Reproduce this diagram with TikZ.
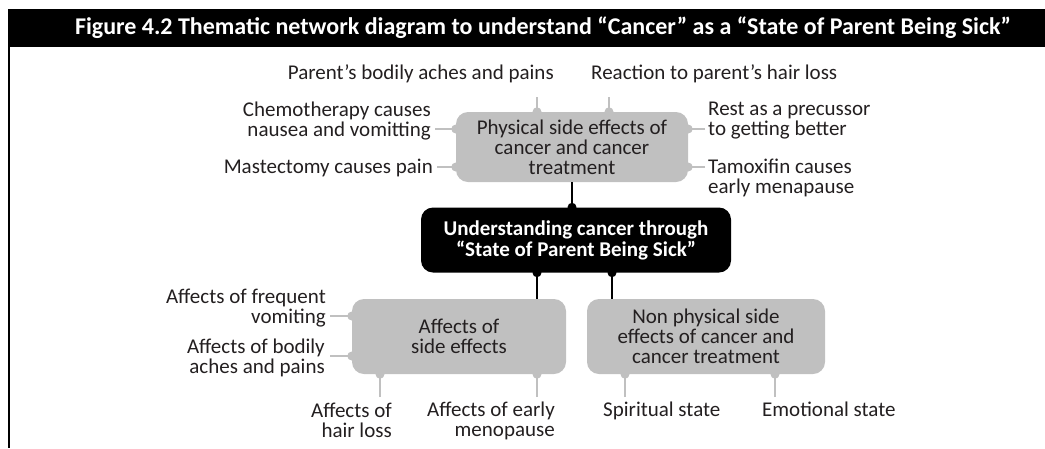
\documentclass[tikz,border=0pt]{standalone}
\usepackage{fontspec}
\setmainfont{Carlito}
\definecolor{BoxGrey}{RGB}{192,192,192}
\definecolor{LinkGrey}{RGB}{192,192,192}
\definecolor{Ink}{RGB}{35,31,32}

\begin{document}
\begin{tikzpicture}[x=1pt,y=-1pt,
  box/.style={fill=BoxGrey, rounded corners=12pt, align=center, text=Ink, inner sep=0pt, font=\fontsize{21}{20}\selectfont},
  keybox/.style={fill=black, rounded corners=12pt, align=center, text=white, inner sep=0pt, font=\bfseries\fontsize{21}{21}\selectfont},
  lbl/.style={text=Ink, inner sep=0pt, font=\fontsize{21}{20}\selectfont},
  link/.style={LinkGrey, line width=2pt},
  stem/.style={black, line width=2.5pt},
  gdot/.style={circle, fill=BoxGrey, inner sep=0pt, minimum size=9pt},
  bdot/.style={circle, fill=black, inner sep=0pt, minimum size=9pt}]
\useasboundingbox (0,0) rectangle (1045,448);
\fill[black] (8,9) rectangle (1045,47);
\draw[black, line width=2pt] (9,47) -- (9,448);
\node[text=white, font=\bfseries\fontsize{24}{24}\selectfont] (title) at (543,28) {Figure 4.2 Thematic network diagram to understand “Cancer” as a “State of Parent Being Sick”};

\node[box, minimum width=232pt, minimum height=70pt] (phys) at (572,147) {Physical side effects of\\cancer and cancer\\treatment};
\node[keybox, minimum width=310pt, minimum height=65pt] (core) at (576,240) {Understanding cancer through\\“State of Parent Being Sick”};
\node[box, minimum width=214pt, minimum height=75pt] (side) at (459,336.5) {Affects of\\side effects};
\node[box, minimum width=238pt, minimum height=75pt] (nonphys) at (706,336.5) {Non physical side\\effects of cancer and\\cancer treatment};

\node[lbl, anchor=east] (pbody) at (554,74) {Parent’s bodily aches and pains};
\node[lbl, anchor=west] (phair) at (591,74) {Reaction to parent’s hair loss};
\node[lbl, anchor=east, align=right] (chemo) at (431,121) {Chemotherapy causes\\nausea and vomitting};
\node[lbl, anchor=east] (mast) at (433,168) {Mastectomy causes pain};
\node[lbl, anchor=west, align=left] (rest) at (708,121) {Rest as a precussor\\to getting better};
\node[lbl, anchor=west, align=left] (tamox) at (708,177.5) {Tamoxifin causes\\early menapause};
\node[lbl, anchor=east, align=right] (vomit) at (326,308.5) {Affects of frequent\\vomiting};
\node[lbl, anchor=east, align=right] (aches) at (325,358) {Affects of bodily\\aches and pains};
\node[lbl, anchor=east, align=right] (hair) at (392,420) {Affects of\\hair loss};
\node[lbl, anchor=east, align=right] (meno) at (555,420.5) {Affects of early\\menopause};
\node[lbl, anchor=west] (spirit) at (603,411) {Spiritual state};
\node[lbl, anchor=west] (emot) at (762,409) {Emotional state};

\coordinate (a1) at (537,97);
\coordinate (a2) at (609,97);
\coordinate (a3) at (435,129);
\coordinate (a4) at (437,167);
\coordinate (a5) at (705,129);
\coordinate (a6) at (705,167);
\coordinate (b1) at (330,316);
\coordinate (b2) at (330,356);
\coordinate (b3) at (380,397);
\coordinate (b4) at (537,397);
\coordinate (b5) at (625,397);
\coordinate (b6) at (775,397);
\coordinate (k2) at (612,0);

\foreach \c/\n/\s in {a1/phys/north, a2/phys/north, b3/side/south, b4/side/south, b5/nonphys/south, b6/nonphys/south}
  \draw[link] (\c) -- (\c |- \n.\s) node[gdot] {};
\foreach \c/\n/\s in {a3/phys/west, a4/phys/west, a5/phys/east, a6/phys/east, b1/side/west, b2/side/west}
  \draw[link] (\c) -- (\c -| \n.\s) node[gdot] {};

\draw[stem] (phys.south) -- (phys.south |- core.north) node[bdot] {};
\draw[stem] (b4 |- side.north) -- (b4 |- core.south) node[bdot] {};
\draw[stem] (k2 |- nonphys.north) -- (k2 |- core.south) node[bdot] {};
\end{tikzpicture}
\end{document}
